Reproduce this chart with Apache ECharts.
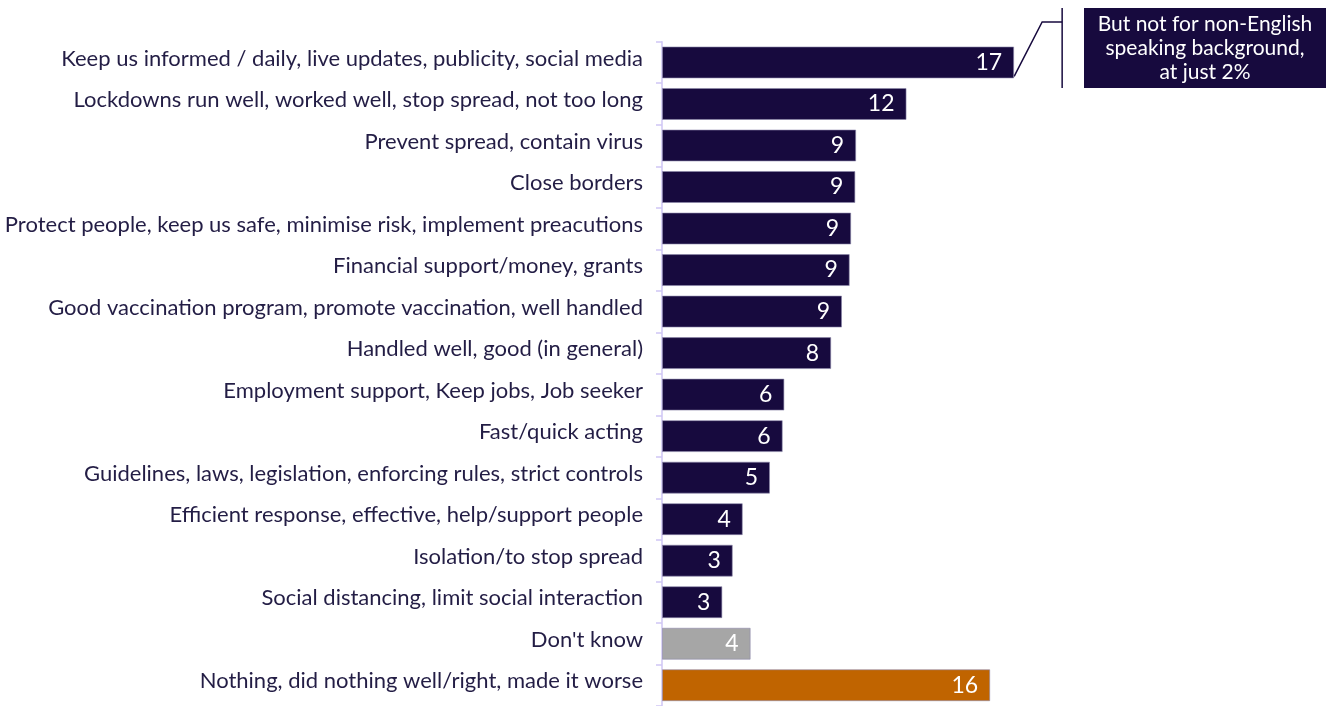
<!DOCTYPE html>
<html><head><meta charset="utf-8">
<script src="https://cdn.jsdelivr.net/npm/echarts@6/dist/echarts.min.js"></script>
<style>html,body{margin:0;padding:0;background:#fff;}#c{width:1331px;height:706px;}</style>
</head><body><div id="c"></div>
<script>
const categories = [
  "Keep us informed / daily, live updates, publicity, social media",
  "Lockdowns run well, worked well, stop spread, not too long",
  "Prevent spread, contain virus",
  "Close borders",
  "Protect people, keep us safe, minimise risk, implement preacutions",
  "Financial support/money, grants",
  "Good vaccination program, promote vaccination, well handled",
  "Handled well, good (in general)",
  "Employment support, Keep jobs, Job seeker",
  "Fast/quick acting",
  "Guidelines, laws, legislation, enforcing rules, strict controls",
  "Efficient response, effective, help/support people",
  "Isolation/to stop spread",
  "Social distancing, limit social interaction",
  "Don't know",
  "Nothing, did nothing well/right, made it worse"
];
const values = [16.92, 11.75, 9.33, 9.29, 9.09, 9.02, 8.65, 8.13, 5.88, 5.80, 5.19, 3.88, 3.40, 2.90, 4.26, 15.77];
const barGroups = ["pos","pos","pos","pos","pos","pos","pos","pos","pos","pos","pos","pos","pos","pos","dk","neg"];
const groupColors = {pos:"#170a3e", dk:"#a6a6a6", neg:"#c06400"};
const calloutLines = ["But not for non-English", "speaking background,", "at just 2%"];

const chart = echarts.init(document.getElementById('c'), null, {renderer:'canvas'});
const FONT = 'Lato, "Noto Sans", sans-serif';
chart.setOption({
  animation:false,
  grid:{left:662, top:41.7, width:666, height:670.4, containLabel:false},
  xAxis:{type:'value', min:0, max:32, show:false},
  yAxis:{type:'category', inverse:true, data:categories,
    axisLine:{show:true, lineStyle:{color:'#cfc6f5', width:1.5}},
    axisTick:{show:true, length:6, lineStyle:{color:'#cfc6f5', width:1.5}},
    axisLabel:{color:'#231d45', fontSize:22, fontFamily:FONT, margin:19,
      formatter:v=>'{a|'+v+'}',
      rich:{a:{color:'#231d45', fontSize:22, fontFamily:FONT, padding:[0,0,8,0]}}}
  },
  series:[{
    type:'bar', barCategoryGap:'23%',
    data: values.map((v,i)=>({value:v, itemStyle:{color:groupColors[barGroups[i]], borderColor:'rgba(140,135,170,0.6)', borderWidth:1}})),
    label:{show:true, position:'insideRight', distance:12, color:'#fff', fontSize:23, fontFamily:FONT,
      padding:[3,0,0,0], formatter:p=>Math.round(p.value)}
  }]
});
const p = chart.convertToPixel({xAxisIndex:0,yAxisIndex:0},[values[0],0]);
const barH = 32;
chart.setOption({graphic:[
  {type:'polyline', shape:{points:[[p[0], p[1]+barH/2-2],[p[0]+28, 22],[p[0]+48, 22]]}, style:{stroke:'#170a3e', lineWidth:1.5, fill:null}},
  {type:'line', shape:{x1:p[0]+48, y1:8, x2:p[0]+48, y2:88}, style:{stroke:'#170a3e', lineWidth:1.5}},
  {type:'rect', shape:{x:1084, y:8, width:242, height:80}, style:{fill:'#170a3e'}},
  {type:'text', x:1205, y:48, style:{text:calloutLines.join('\n'), fill:'#fff', font:'21px '+FONT, align:'center', verticalAlign:'middle', lineHeight:24}}
]});
</script></body></html>
